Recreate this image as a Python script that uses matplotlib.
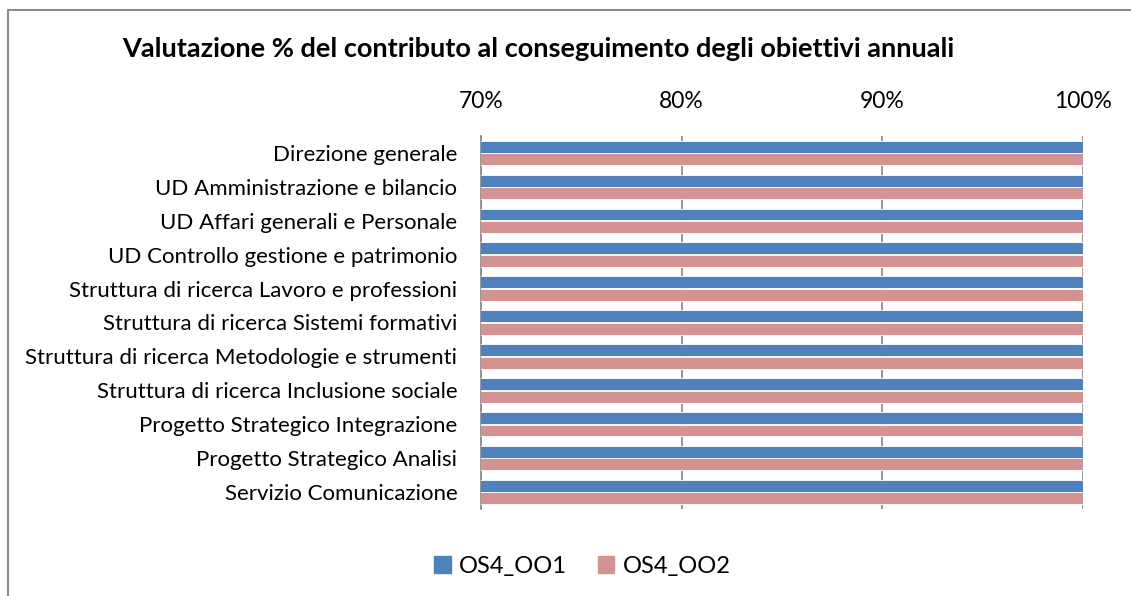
import matplotlib.pyplot as plt
import matplotlib.patches as mpatches
from matplotlib.lines import Line2D
import numpy as np

plt.rcParams['font.family'] = ['Lato', 'DejaVu Sans']

categories = [
    'Direzione generale',
    'UD Amministrazione e bilancio',
    'UD Affari generali e Personale',
    'UD Controllo gestione e patrimonio',
    'Struttura di ricerca Lavoro e professioni',
    'Struttura di ricerca Sistemi formativi',
    'Struttura di ricerca Metodologie e strumenti',
    'Struttura di ricerca Inclusione sociale',
    'Progetto Strategico Integrazione',
    'Progetto Strategico Analisi',
    'Servizio Comunicazione',
]
os4_oo1 = [100, 100, 100, 100, 100, 100, 100, 100, 100, 100, 100]
os4_oo2 = [100, 100, 100, 100, 100, 100, 100, 100, 100, 100, 100]
ticks = [70, 80, 90, 100]

blue = '#4F81BD'
pink = '#D49393'

fig = plt.figure(figsize=(11.31, 5.96), dpi=100)
ax = fig.add_axes([0.4253, 0.146, 0.5323, 0.6258])

y = np.arange(len(categories))
h = 0.35
ax.barh(y - h / 2 - 0.01, os4_oo1, height=h, color=blue, edgecolor='white', linewidth=0.6, zorder=3)
ax.barh(y + h / 2 + 0.01, os4_oo2, height=h, color=pink, edgecolor='white', linewidth=0.6, zorder=3)

ax.set_xlim(70, 100)
ax.set_ylim(len(categories) - 0.5, -0.5)
ax.set_xticks(ticks)
ax.set_xticklabels([f'{t}%' for t in ticks], fontsize=16.5)
ax.xaxis.tick_top()
ax.tick_params(axis='x', length=0, pad=17)
ax.set_yticks(y)
ax.set_yticklabels(categories, fontsize=16)
ax.tick_params(axis='y', length=0, pad=17)

ax.grid(axis='x', color='#868686', linewidth=1.2, zorder=1)
for s in ['top', 'right', 'bottom']:
    ax.spines[s].set_visible(False)
ax.spines['left'].set_color('#868686')
ax.spines['left'].set_linewidth(1.2)

fig.text(0.476, 0.918, 'Valutazione % del contributo al conseguimento degli obiettivi annuali',
         ha='center', va='center', fontsize=19.5, fontweight='bold')

handles = [mpatches.Patch(color=blue, label='OS4_OO1'),
           mpatches.Patch(color=pink, label='OS4_OO2')]
fig.legend(handles=handles, loc='center', bbox_to_anchor=(0.515, 0.05), ncol=2,
           frameon=False, fontsize=17, handlelength=0.7, handleheight=0.7,
           handletextpad=0.35, columnspacing=1.3)

# outer chart frame (right and bottom edges fall outside the picture)
x0 = 8 / 1131
y0 = 1 - 10 / 596
fig.lines.append(Line2D([x0, x0, 1.0], [0.0, y0, y0], transform=fig.transFigure,
                        color='#8C8C8C', linewidth=1.5, solid_capstyle='butt'))

fig.savefig('out.png', dpi=100)
